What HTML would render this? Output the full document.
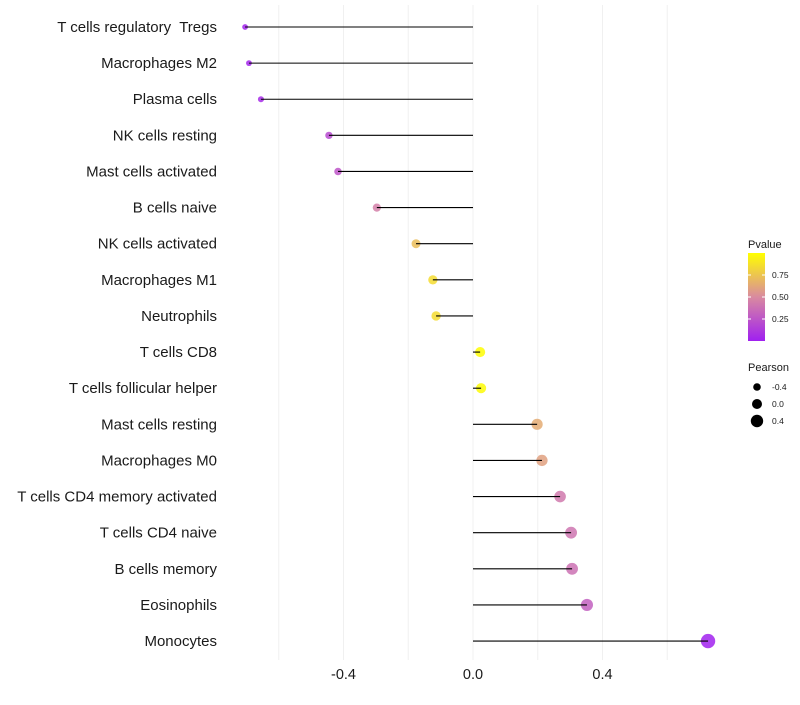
<!DOCTYPE html>
<html><head><meta charset="utf-8"><style>
body{margin:0;background:#fff;font-family:"Liberation Sans",sans-serif}
text{white-space:pre}
</style></head><body>
<svg id="chart" width="800" height="700" xmlns="http://www.w3.org/2000/svg">
<defs><linearGradient id="pg" x1="0" y1="1" x2="0" y2="0">
<stop offset="0" stop-color="#a020f0"/><stop offset="0.5" stop-color="#d98aa0"/><stop offset="1" stop-color="#ffff00"/></linearGradient></defs>
<g id="grid"></g><g id="dots"></g><g id="marks"></g><g id="labels"></g><g id="legend"></g>
</svg>
<script>
const categories=["T cells regulatory  Tregs","Macrophages M2","Plasma cells","NK cells resting","Mast cells activated","B cells naive","NK cells activated","Macrophages M1","Neutrophils","T cells CD8","T cells follicular helper","Mast cells resting","Macrophages M0","T cells CD4 memory activated","T cells CD4 naive","B cells memory","Eosinophils","Monocytes"];
const pearson=[-0.704,-0.692,-0.655,-0.445,-0.417,-0.297,-0.176,-0.124,-0.114,0.022,0.025,0.198,0.213,0.269,0.303,0.306,0.352,0.726];
const pvalue=[0.02,0.03,0.05,0.2,0.25,0.45,0.72,0.85,0.85,0.99,0.98,0.64,0.6,0.42,0.4,0.38,0.3,0.01];
const xTicks=[-0.4,0.0,0.4];
const xTickLabels=["-0.4","0.0","0.4"];
const gridVals=[-0.6,-0.4,-0.2,0,0.2,0.4,0.6];
const legendP=[0.75,0.5,0.25];
const legendS=[-0.4,0,0.4];
const NS="http://www.w3.org/2000/svg";
const x=v=>473+v*323.75;
const y=i=>27+i*36.12;
const r=v=>5+3*v;
function mix(a,b,t){return a.map((c,k)=>Math.round(c+(b[k]-c)*t));}
function col(p){const A=[160,32,240],M=[217,138,160],B=[255,255,0];
 const c=p<0.5?mix(A,M,p/0.5):mix(M,B,(p-0.5)/0.5);return `rgb(${c.join(',')})`;}
function mk(tag,at,parent,txt){const e=document.createElementNS(NS,tag);for(const k in at)e.setAttribute(k,at[k]);if(txt!==undefined)e.textContent=txt;document.getElementById(parent).appendChild(e);return e;}
gridVals.forEach(v=>{const e=mk('line',{x1:x(v),x2:x(v),y1:5,y2:660,stroke:'#f0f0f0','stroke-width':1},'grid');

});
categories.forEach((c,i)=>{
 const t=mk('text',{x:217,y:y(i)+5,'text-anchor':'end','font-size':15,fill:'#1a1a1a'},'labels',c);
 
 
 const d=mk('circle',{cx:x(pearson[i]),cy:y(i),r:r(pearson[i]),fill:col(pvalue[i]),'fill-opacity':0.85},'dots');
 
 
 const l=mk('line',{x1:x(0),x2:x(pearson[i]),y1:y(i),y2:y(i),stroke:'#000','stroke-width':1.1},'marks');
 
 
});
xTicks.forEach((v,i)=>{const t=mk('text',{x:x(v),y:679,'text-anchor':'middle','font-size':14.5,fill:'#1a1a1a'},'labels',xTickLabels[i]);

});
const lt=mk('text',{x:748,y:248,'font-size':11,fill:'#1a1a1a'},'legend','Pvalue');


const bar=mk('rect',{x:748,y:253,width:17,height:88,fill:'url(#pg)'},'legend');


const py=p=>341-p*88;
legendP.forEach(p=>{mk('line',{x1:748,x2:751,y1:py(p),y2:py(p),stroke:'#fff'},'legend');mk('line',{x1:762,x2:765,y1:py(p),y2:py(p),stroke:'#fff'},'legend');
const t=mk('text',{x:772,y:py(p)+3,'font-size':8.5,fill:'#1a1a1a'},'legend',p.toFixed(2));

});
const st=mk('text',{x:748,y:371,'font-size':11,fill:'#1a1a1a'},'legend','Pearson');


legendS.forEach((v,i)=>{const c=mk('circle',{cx:757,cy:387+i*17,r:r(v),fill:'#000'},'legend');


const t=mk('text',{x:772,y:390+i*17,'font-size':8.5,fill:'#1a1a1a'},'legend',v.toFixed(1));

});
</script>
</body></html>
